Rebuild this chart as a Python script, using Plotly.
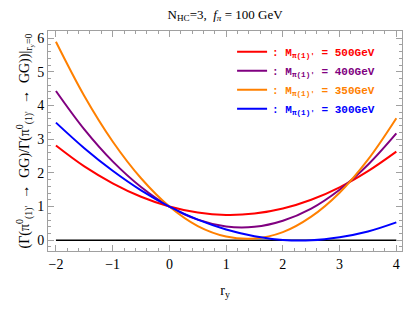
import plotly.graph_objects as go

r_y = [-2, -1.5, -1, -0.5, 0, 0.5, 1, 1.5, 2, 2.5, 3, 3.5, 4]
ratio_500 = [2.81, 2.19, 1.69, 1.29, 1.00, 0.82, 0.75, 0.79, 0.94, 1.20, 1.57, 2.05, 2.63]
ratio_400 = [4.43, 3.29, 2.34, 1.58, 1.00, 0.61, 0.41, 0.40, 0.58, 0.94, 1.50, 2.24, 3.17]
ratio_350 = [5.89, 4.28, 2.93, 1.84, 1.00, 0.42, 0.11, 0.05, 0.24, 0.70, 1.41, 2.39, 3.62]
ratio_300 = [3.49, 2.73, 2.06, 1.48, 1.00, 0.61, 0.32, 0.12, 0.01, 0.00, 0.09, 0.26, 0.53]
masses = ["500", "400", "350", "300"]
colors = ["rgb(255,0,0)", "rgb(128,0,128)", "rgb(255,128,0)", "rgb(0,0,255)"]
series = [ratio_500, ratio_400, ratio_350, ratio_300]

fig = go.Figure()
fig.add_trace(go.Scatter(x=[-2, 4], y=[0, 0], mode="lines",
                         line=dict(color="black", width=1.6), showlegend=False, hoverinfo="skip"))
for m, c, ys in zip(masses, colors, series):
    name = (f'<span style="color:{c}"><b>: M<sub>π(1)\'</sub> = {m}GeV</b></span>')
    fig.add_trace(go.Scatter(x=r_y, y=ys, mode="lines", name=name,
                             line=dict(color=c, width=2, shape="spline", smoothing=1.0)))

axis_common = dict(
    automargin=False,
    showgrid=False, zeroline=False, showline=True, linecolor="rgb(160,160,160)", linewidth=1,
    mirror="ticks", ticks="inside", ticklen=6, tickcolor="rgb(160,160,160)", tickwidth=1,
    tickfont=dict(family="Liberation Serif", size=14, color="black"),
    minor=dict(ticks="inside", ticklen=3, tickcolor="rgb(160,160,160)", dtick=0.2),
)
fig.update_xaxes(range=[-2.14, 4.1], dtick=1, tick0=0,
                 title=dict(text="r<sub>y</sub>", font=dict(family="Liberation Serif", size=14, color="black"), standoff=14),
                 **axis_common)
fig.update_yaxes(range=[-0.32, 6.21], dtick=1, tick0=0,
                 title=dict(text="(Γ(π<sup>0</sup><sub>(1)'</sub>  →  GG)/Γ(π<sup>0</sup><sub>(1)'</sub>  →  GG))|<sub>r<sub>y</sub>=0</sub>",
                            font=dict(family="Liberation Serif", size=14, color="black"), standoff=4),
                 **axis_common)

fig.update_layout(
    width=407, height=310,
    margin=dict(l=48, r=5, t=31, b=59, autoexpand=False),
    paper_bgcolor="white", plot_bgcolor="white",
    title=dict(text="N<sub>HC</sub>=3,  <i>f<sub>π</sub></i> = 100 GeV", x=0.553, xanchor="center",
               y=0.955, yanchor="middle", font=dict(family="Liberation Serif", size=13, color="black")),
    legend=dict(x=0.52, y=0.972, xanchor="left", yanchor="top", bgcolor="rgba(0,0,0,0)",
                font=dict(family="Liberation Mono", size=11), itemwidth=30, tracegroupgap=0),
    showlegend=True,
)
fig.write_html("out.html", config={"displayModeBar": False},
               post_script="document.body.style.margin='0';")
